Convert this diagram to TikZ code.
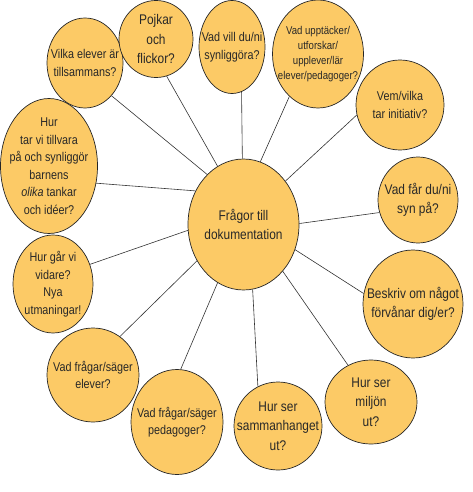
\documentclass[tikz,border=0pt]{standalone}
\usepackage{fontspec}
\setmainfont[FakeStretch=0.85]{Liberation Sans}
\definecolor{ORG}{RGB}{252,202,102}
\definecolor{INK}{RGB}{40,40,40}
\usetikzlibrary{shapes.geometric}

\tikzset{
  bubble/.style={ellipse,draw=black!85,line width=0.7pt,fill=ORG,inner sep=0pt},
  bubbletext/.style={align=center,inner sep=0pt,text=INK,font=\fontsize{12.7}{17.5}\selectfont},
  bigtext/.style={bubbletext,font=\fontsize{14}{19.5}\selectfont},
  smalltext/.style={bubbletext,font=\fontsize{11.3}{15}\selectfont},
  spoke/.style={draw=black!80,line width=0.6pt}
}

\begin{document}
\begin{tikzpicture}[x=1pt,y=-1pt]
            \useasboundingbox (0,0) rectangle (472,492);

            % the bubbles are sized by hand, the text sits in a centred label
            \node[bubble,minimum width=111pt,minimum height=131pt,
                  label={[bigtext]center:{Frågor till\\dokumentation}}] (center) at (243.5,224.5) {};

            \node[bubble,minimum width=76pt,minimum height=90pt,
                  label={[bubbletext]center:{Vilka elever är\\tillsammans?}}] (together) at (85,63) {};
            \node[bubble,minimum width=74pt,minimum height=77pt,
                  label={[bigtext]center:{Pojkar\\och\\flickor?}}] (boys) at (156,39) {};
            \node[bubble,minimum width=66pt,minimum height=93pt,
                  label={[bubbletext]center:{Vad vill du/ni\\synliggöra?}}] (visible) at (232,47) {};
            \node[bubble,minimum width=91pt,minimum height=108pt,
                  label={[smalltext]center:{Vad upptäcker/\\utforskar/\\upplever/lär\\elever/pedagoger?}}] (discover) at (318,54) {};
            \node[bubble,minimum width=88pt,minimum height=90pt,
                  label={[bubbletext]center:{Vem/vilka\\tar initiativ?}}] (initiative) at (400,105) {};
            \node[bubble,minimum width=80pt,minimum height=86pt,
                  label={[bigtext]center:{Vad får du/ni\\syn på?}}] (see) at (418,200) {};
            \node[bubble,minimum width=100pt,minimum height=108pt,
                  label={[bigtext]center:{Beskriv om något\\förvånar dig/er?}}] (surprise) at (413,304) {};
            \node[bubble,minimum width=92pt,minimum height=84pt,
                  label={[bigtext]center:{Hur ser\\miljön\\ut?}}] (milieu) at (371,402) {};
            \node[bubble,minimum width=88pt,minimum height=88pt,
                  label={[bigtext]center:{Hur ser\\sammanhanget\\ut?}}] (context) at (278,426) {};
            \node[bubble,minimum width=92pt,minimum height=105pt,
                  label={[bubbletext]center:{Vad frågar/säger\\pedagoger?}}] (teachers) at (177,422) {};
            \node[bubble,minimum width=92pt,minimum height=94pt,
                  label={[bubbletext]center:{Vad frågar/säger\\elever?}}] (pupils) at (93,375) {};
            \node[bubble,minimum width=80pt,minimum height=98pt,
                  label={[bubbletext]center:{Hur går vi\\vidare?\\Nya\\utmaningar!}}] (next) at (53,284) {};
            \node[bubble,minimum width=97pt,minimum height=135pt,
                  label={[bubbletext]center:{Hur\\tar vi tillvara\\på och synliggör\\barnens\\\textit{olika} tankar\\och idéer?}}] (ideas) at (49,166) {};

            % spokes: angle on the centre bubble / angle on the outer bubble
            \foreach \q/\a/\b in {together/126/-51,boys/114/-74,visible/91/-78,discover/75/-124,
                                  initiative/46/-167,see/1/-162,surprise/-26/168,milieu/-50/122,
                                  context/-82/117,teachers/-114/86,pupils/-142/55,next/186/28,ideas/145/-20}
              \draw[spoke] (center.\a) -- (\q.\b);
        \end{tikzpicture}
\end{document}
